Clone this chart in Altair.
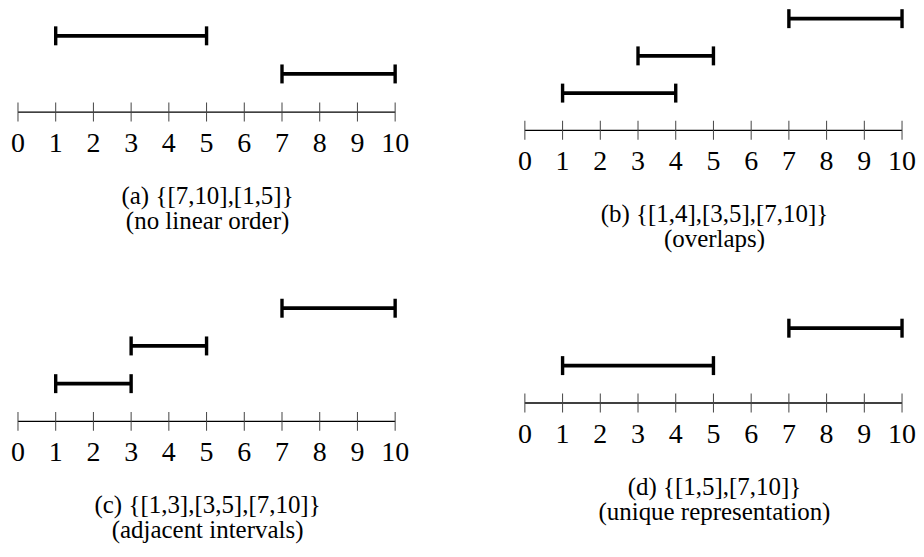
import altair as alt
import pandas as pd

# ---------------- data ----------------
panel_ids = ["a", "b", "c", "d"]
caption_sets = [
    "(a) {[7,10],[1,5]}",
    "(b) {[1,4],[3,5],[7,10]}",
    "(c) {[1,3],[3,5],[7,10]}",
    "(d) {[1,5],[7,10]}",
]
caption_notes = ["(no linear order)", "(overlaps)", "(adjacent intervals)", "(unique representation)"]

interval_panel = ["a", "a", "b", "b", "b", "c", "c", "c", "d", "d"]
interval_start = [7, 1, 1, 3, 7, 1, 3, 7, 1, 7]
interval_end = [10, 5, 4, 5, 10, 3, 5, 10, 5, 10]
interval_level = [1, 2, 1, 2, 3, 1, 2, 3, 1, 2]

tick_values = list(range(0, 11))

# ---------------- layout / style ----------------
FONT = "Liberation Serif"
PX_PER_UNIT = 37.8
X_LO = -10 / PX_PER_UNIT
X_HI = 10 + 12 / PX_PER_UNIT
PANEL_W = 400
panel_heights = {"a": 103.7, "b": 122.0, "c": 131.7, "d": 113.3}
panel_level_px = {"a": 38.2, "b": 37.3, "c": 37.8, "d": 37.5}

intervals = pd.DataFrame({
    "panel": interval_panel,
    "start": interval_start,
    "end": interval_end,
    "level": interval_level,
})
ticks_df = pd.DataFrame({
    "v": tick_values,
    "lab": [str(t) for t in tick_values],
    "level": [0] * len(tick_values),
})
line_df = pd.DataFrame({"x0": [min(tick_values)], "x1": [max(tick_values)], "level": [0]})


def make_panel(i, pid):
    h = panel_heights[pid]
    xs = alt.Scale(domain=[X_LO, X_HI], nice=False, zero=False)
    ys = alt.Scale(domain=[0, h / panel_level_px[pid]], nice=False, zero=False)
    iv = intervals[intervals["panel"] == pid]
    ends = pd.DataFrame({
        "v": list(iv["start"]) + list(iv["end"]),
        "level": list(iv["level"]) * 2,
    })

    number_line = alt.Chart(line_df).mark_rule(color="black", strokeWidth=1.3).encode(
        x=alt.X("x0:Q", scale=xs, axis=None),
        x2="x1:Q",
        y=alt.Y("level:Q", scale=ys, axis=None),
    )
    ticks = alt.Chart(ticks_df).mark_tick(
        orient="vertical", size=19, thickness=1, color="#444444", opacity=1
    ).encode(
        x=alt.X("v:Q", scale=xs, axis=None),
        y=alt.Y("level:Q", scale=ys, axis=None),
    )
    labels = alt.Chart(ticks_df).mark_text(
        font=FONT, fontSize=28, color="black", baseline="alphabetic", align="center", dy=40
    ).encode(
        x=alt.X("v:Q", scale=xs, axis=None),
        y=alt.Y("level:Q", scale=ys, axis=None),
        text="lab:N",
    )
    bars = alt.Chart(iv).mark_rule(color="black", strokeWidth=3.8).encode(
        x=alt.X("start:Q", scale=xs, axis=None),
        x2="end:Q",
        y=alt.Y("level:Q", scale=ys, axis=None),
    )
    caps = alt.Chart(ends).mark_tick(
        orient="vertical", size=19, thickness=3.4, color="black", opacity=1
    ).encode(
        x=alt.X("v:Q", scale=xs, axis=None),
        y=alt.Y("level:Q", scale=ys, axis=None),
    )
    return alt.layer(number_line, ticks, labels, bars, caps).properties(
        width=PANEL_W,
        height=h,
        title=alt.TitleParams(
            text=[caption_sets[i], caption_notes[i]],
            orient="bottom",
            anchor="middle",
            font=FONT,
            fontSize=25,
            fontWeight="normal",
            color="black",
            lineHeight=25,
            offset=26,
        ),
    )


panels = [make_panel(i, pid) for i, pid in enumerate(panel_ids)]

chart = alt.concat(
    *panels,
    columns=2,
    spacing={"row": 160, "column": 108},
    bounds="flush",
).properties(
    padding=0, background="white"
).configure_view(stroke=None)

chart.save("out.html", embed_options={"renderer": "svg", "actions": False})
